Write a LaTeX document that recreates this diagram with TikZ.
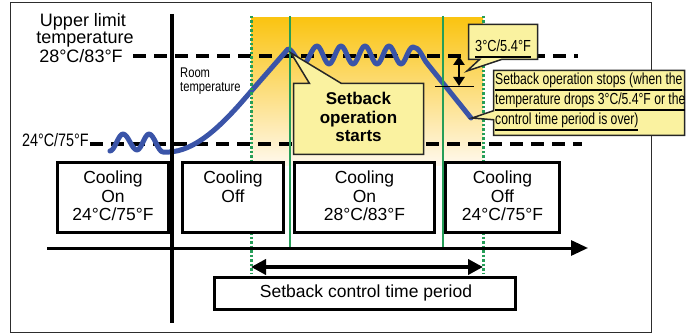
\documentclass[tikz,border=0pt]{standalone}
\usepackage{fontspec}
\setmainfont{Liberation Sans}
\newfontfamily\narrowf[FakeStretch=0.8]{Liberation Sans}
\newfontfamily\narrowg[FakeStretch=0.76]{Liberation Sans}
\usetikzlibrary{arrows.meta,shapes.callouts}
\definecolor{cblue}{RGB}{58,84,168}
\definecolor{cgreen}{RGB}{38,158,88}
\definecolor{cyel}{RGB}{250,242,160}
\definecolor{gtop}{RGB}{250,196,18}
\definecolor{gbot}{RGB}{255,249,238}
\definecolor{framec}{RGB}{45,45,45}
\newcommand\myul[1]{\setbox0=\hbox{#1}\rlap{\raisebox{-6pt}{\rule{\wd0}{1.8pt}}}\box0}
\tikzset{
  dline/.style={line width=3.5pt, dash pattern=on 13pt off 8pt},
  axisline/.style={line width=3.5pt},
  gsolid/.style={draw=cgreen, line width=2pt},
  gdot/.style={draw=cgreen, line width=3pt, dash pattern=on 2.5pt off 2pt},
  wbox/.style={draw, line width=2.8pt, fill=white, inner sep=0},
  callbox/.style={draw=black!85, line width=1.5pt, fill=cyel, inner sep=0},
  txt/.style={inner sep=0, anchor=base, font=\fontsize{17.5}{18}\selectfont},
  curveline/.style={draw=cblue, line width=5pt, line cap=round, line join=round},
  tip/.style={Triangle[length=#1, width=#1]}
}
\begin{document}
\begin{tikzpicture}[x=1pt,y=-1pt]
\useasboundingbox (0,0) rectangle (691,334);
% frame
\draw[draw=framec, line width=1.5pt] (10.5,2.5) rectangle (651.5,332.5);
% gradient
\shade[top color=gtop, bottom color=gbot] (251,18) rectangle (483,166);
% dashed levels
\coordinate (d1a) at (133,56);
\coordinate (d1b) at (578,56);
\coordinate (d2a) at (90,144);
\coordinate (d2b) at (582,144);
\draw[dline] (d1a) -- (d1b);
\draw[dline] (d2a) -- (d2b);
% blue curve
\draw[curveline] (110,151) cos (116.5,142.5) sin (123,134) cos (130,142) sin (137,150)
  cos (143,142) sin (149,134) cos (156,143) sin (163,152)
  .. controls (190,154) and (215,132) .. (240,104) -- (288,49)
  cos (295,56) sin (303,64) cos (310,55) sin (317,46)
  cos (323,55) sin (329,64) cos (335,55) sin (341,46)
  cos (347,55) sin (353,64) cos (359,55) sin (365,46)
  cos (371,55) sin (377,64) cos (383,55) sin (389,46)
  cos (395,55) sin (401,64) cos (407,55) sin (413,47)
  .. controls (419,47) and (422,56) .. (426,62) -- (471,118);
% green lines
\coordinate (g1t) at (251,16); \coordinate (g1b) at (251,273);
\coordinate (g2t) at (290,16); \coordinate (g2b) at (290,248);
\coordinate (g3t) at (443,16); \coordinate (g3b) at (443,248);
\coordinate (g4t) at (483,16); \coordinate (g4b) at (483,273);
\draw[gdot] (g1t) -- (g1b);
\draw[gdot] (g4t) -- (g4b);
\draw[gsolid] (g2t) -- (g2b);
\draw[gsolid] (g3t) -- (g3b);
% boxes
\node[wbox, minimum width=111pt, minimum height=70pt] (b1) at (113,197.5) {};
\node[wbox, minimum width=101pt, minimum height=70pt] (b2) at (233,197.5) {};
\node[wbox, minimum width=140pt, minimum height=70pt] (b3) at (364.5,197.5) {};
\node[wbox, minimum width=114pt, minimum height=70pt] (b4) at (502.5,197.5) {};
\node[wbox, line width=2.5pt, minimum width=301pt, minimum height=32pt] (bp) at (365,293.5) {};
% axes
\coordinate (vtop) at (172,14); \coordinate (vbot) at (172,323);
\draw[axisline] (vtop) -- (vbot);
\coordinate (hl) at (47,248); \coordinate (hr) at (588,248);
\draw[line width=3pt, -{Triangle[length=17pt,width=15pt]}] (hl) -- (hr);
% period arrow
\coordinate (pa) at (251,267); \coordinate (pb) at (483,267);
\draw[line width=4pt, {Triangle[length=15pt,width=15pt]}-{Triangle[length=15pt,width=15pt]}] (pa) -- (pb);
% small 3C arrow
\coordinate (va) at (459,56); \coordinate (vb) at (459,86);
\draw[line width=2.5pt, {Triangle[length=9pt,width=11pt]}-{Triangle[length=9pt,width=11pt]}] (va) -- (vb);
\coordinate (ha) at (435,86.5); \coordinate (hb) at (474,86.5);
\draw[line width=1.5pt] (ha) -- (hb);
% texts on left
\node[txt, font=\fontsize{18}{18}\selectfont] (ul1) at (83,27) {Upper limit};
\node[txt, font=\fontsize{18}{18}\selectfont] (ul2) at (85,44) {temperature};
\node[txt, font=\fontsize{18}{18}\selectfont] (ul3) at (81,63) {28°C/83°F};
\node[txt, anchor=base east, font=\narrowf\fontsize{18}{18}\selectfont] (lo) at (89,147) {24°C/75°F};
\node[txt, anchor=base west, font=\narrowf\fontsize{14}{14}\selectfont] (rt1) at (180,78) {Room};
\node[txt, anchor=base west, font=\narrowf\fontsize{14}{14}\selectfont] (rt2) at (180,92) {temperature};
% box texts
\node[txt] (b1a) at (113,183) {Cooling};
\node[txt] (b1b) at (113,202) {On};
\node[txt] (b1c) at (113,220) {24°C/75°F};
\node[txt] (b2a) at (233,183) {Cooling};
\node[txt] (b2b) at (233,202) {Off};
\node[txt] (b3a) at (364.5,183) {Cooling};
\node[txt] (b3b) at (364.5,202) {On};
\node[txt] (b3c) at (364.5,220) {28°C/83°F};
\node[txt] (b4a) at (502.5,183) {Cooling};
\node[txt] (b4b) at (502.5,202) {Off};
\node[txt] (b4c) at (502.5,220) {24°C/75°F};
\node[txt] (bpt) at (366,297) {Setback control time period};
% callouts
\node[callbox, rectangle callout, minimum width=130pt, minimum height=71pt,
  callout absolute pointer={(291,53)}, callout pointer width=32pt] (cs) at (358.5,119) {};
\node[txt, font=\bfseries\fontsize{17}{18}\selectfont] (cs1) at (358.5,105) {Setback};
\node[txt, font=\bfseries\fontsize{17}{18}\selectfont] (cs2) at (358.5,124) {operation};
\node[txt, font=\bfseries\fontsize{17}{18}\selectfont] (cs3) at (358.5,142) {starts};
\node[callbox, rectangle callout, minimum width=69pt, minimum height=35pt,
  callout absolute pointer={(467,71)}, callout pointer width=22pt] (c3) at (503,42) {};
\node[txt, anchor=base west, font=\narrowf\fontsize{16}{16}\selectfont] (c3t) at (475,52) {\myul{3°C/5.4°F}};
\node[callbox, rectangle callout, minimum width=191pt, minimum height=65pt,
  callout absolute pointer={(472,118)}, callout pointer width=9pt] (cst) at (589,103) {};
\node[txt, anchor=base west, font=\narrowg\fontsize{16}{16}\selectfont] (cst1) at (495,85) {\myul{Setback operation stops (when the}};
\node[txt, anchor=base west, font=\narrowg\fontsize{16}{16}\selectfont] (cst2) at (495,105) {\myul{temperature drops 3°C/5.4°F or the}};
\node[txt, anchor=base west, font=\narrowg\fontsize{16}{16}\selectfont] (cst3) at (495,125) {\myul{control time period is over)}};
\end{tikzpicture}
\end{document}
